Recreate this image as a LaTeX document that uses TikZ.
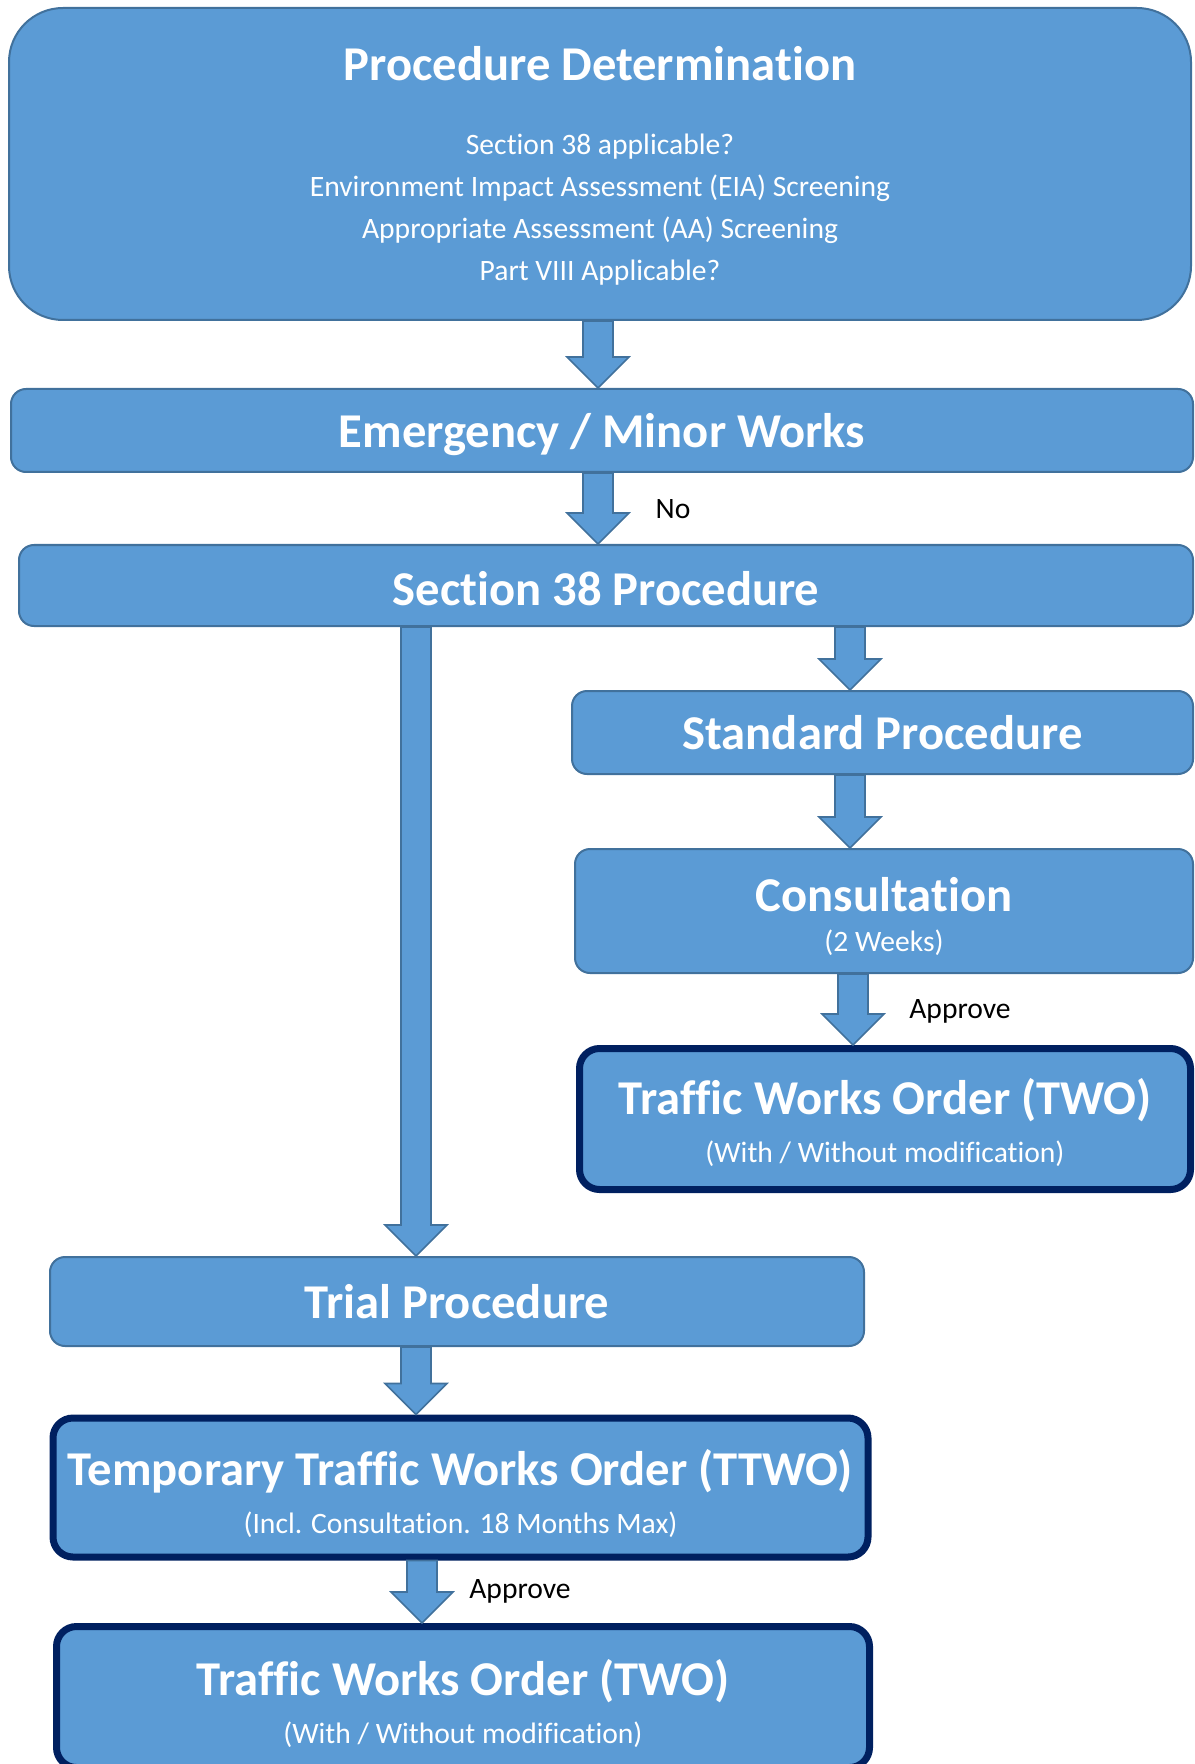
\documentclass[tikz,border=0pt]{standalone}
\usepackage{fontspec}
\setmainfont{Carlito}[Ligatures=CommonOff]
\usepackage{tikz}
\usetikzlibrary{positioning,calc}
\definecolor{boxblue}{HTML}{5B9BD5}
\definecolor{boxline}{HTML}{41719C}
\definecolor{ordernavy}{HTML}{002060}
\newcommand{\titlesize}{\fontsize{24.3}{28}\selectfont\bfseries}
\newcommand{\notesize}{\fontsize{14.8}{21}\selectfont\mdseries}
\tikzset{stepbox/.style={draw=boxline, fill=boxblue, line width=1pt, rounded corners=7.5pt,
                         text=white, align=center, inner sep=0pt, font=\titlesize},
         notebox/.style={font=\notesize},
         orderbox/.style={stepbox, notebox, draw=ordernavy, line width=3.5pt, rounded corners=10pt, text depth=0pt},
         blockarr/.style={draw=boxline, fill=boxblue, line width=0.8pt},
         answer/.style={font=\fontsize{14.8}{17}\selectfont}}
\newcommand{\blockarrow}[2]{%
  \draw[blockarr] let \p1=(#1), \p2=(#2) in
    (\x1-7.5pt,\y1) -- (\x1-7.5pt,\y2+15.5pt) -- (\x1-15.5pt,\y2+15.5pt) -- (\x1,\y2)
    -- (\x1+15.5pt,\y2+15.5pt) -- (\x1+7.5pt,\y2+15.5pt) -- (\x1+7.5pt,\y1) -- cycle;}

\begin{document}
\begin{tikzpicture}[x=0.5pt, y=-0.5pt]
  \useasboundingbox (0,0) rectangle (1194,1764);

  \node[stepbox, notebox, rounded corners=27pt, minimum width=591pt, minimum height=156pt, text depth=0.3pt] (det) at (600,164)
    {{\titlesize Procedure Determination}\\[16pt]
     Section 38 applicable?\\
     Environment Impact Assessment (EIA) Screening\\
     Appropriate Assessment (AA) Screening\\
     Part VIII Applicable?};
  \node[stepbox, minimum width=591pt, minimum height=41.5pt, text depth=0.4pt] (emerg) at (602,430.5) {Emergency / Minor Works};
  \node[stepbox, minimum width=587pt, minimum height=40.5pt, text height=20pt, text depth=0pt] (s38) at (606,585.5) {Section 38 Procedure};
  \node[stepbox, minimum width=310.5pt, minimum height=41.5pt] (std) at (882.5,732.5) {Standard Procedure};
  \node[stepbox, notebox, minimum width=309pt, minimum height=62pt, text height=40.2pt, text depth=0pt] (cons) at (884,911)
    {{\titlesize Consultation}\\[-1pt](2 Weeks)};
  \node[orderbox, minimum width=305.5pt, minimum height=70.5pt, text height=43.6pt] (two1) at (885,1119)
    {{\titlesize Traffic Works Order (TWO)}\\[3pt](With / Without modification)};
  \node[stepbox, minimum width=407pt, minimum height=44.5pt] (trial) at (457,1301.5) {Trial Procedure};
  \node[orderbox, minimum width=407.5pt, minimum height=69.5pt, text height=46pt] (ttwo) at (460.5,1487.5)
    {{\titlesize Temporary Traffic Works Order (TTWO)}\\[3pt](Incl. Consultation. 18 Months Max)};
  \node[orderbox, minimum width=406.5pt, minimum height=70.5pt, text height=46pt] (two2) at (463,1697)
    {{\titlesize Traffic Works Order (TWO)}\\[3pt](With / Without modification)};

  \coordinate (colA) at (598,0);
  \coordinate (colL) at (416,0);
  \coordinate (colR) at (850,0);
  \coordinate (colC) at (853,0);
  \coordinate (colT) at (422,0);

  \blockarrow{det.south -| colA}{emerg.north -| colA}
  \blockarrow{emerg.south -| colA}{s38.north -| colA}
  \blockarrow{s38.south -| colL}{trial.north -| colL}
  \blockarrow{s38.south -| colR}{std.north -| colR}
  \blockarrow{std.south -| colR}{cons.north -| colR}
  \blockarrow{cons.south -| colC}{two1.north -| colC}
  \blockarrow{trial.south -| colL}{ttwo.north -| colL}
  \blockarrow{ttwo.south -| colT}{two2.north -| colT}

  \node[answer] (no) at (673,509) {No};
  \node[answer] (ok1) at (960,1011) {Approve};
  \node[answer] (ok2) at (520,1591) {Approve};
\end{tikzpicture}
\end{document}
